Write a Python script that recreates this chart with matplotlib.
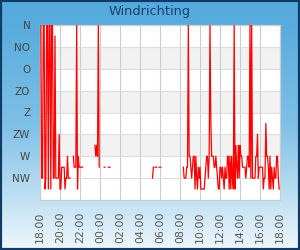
import matplotlib
matplotlib.use("Agg")
import matplotlib.pyplot as plt
import matplotlib.dates as mdates
from matplotlib.colors import LinearSegmentedColormap
from matplotlib.patches import Rectangle
import numpy as np
import pandas as pd

# windrichting in graden (0 = N, 315 = NW), metingen elke 5 minuten
richting_labels = ["N", "NO", "O", "ZO", "Z", "ZW", "W", "NW"]
richting_graden = [0, 45, 90, 135, 180, 225, 270, 315]

avond = [0, 315, 315, 0, 0, 337.5, 315, 0, 0, 337.5, 0, 0, 337.5, 0, 0, 315,
         315, 22.5, 315, 315, 315, 315, 225, 337.5, 337.5, 292.5, 292.5, 292.5,
         292.5, 337.5, 315, 315, 270, 315, 315, 315]
avond_2 = [270, 292.5, 292.5, 292.5, 0, 337.5, 270, 292.5, 292.5, 292.5, 292.5, 292.5]
avond_3 = [247.5, 270, 247.5, 270, 0, 292.5]
nacht_1 = [292.5, 292.5]
nacht_2 = [292.5, 292.5, 292.5]
ochtend_1 = [315, 292.5]
ochtend_2 = [292.5, 292.5, 292.5]
ochtend_3 = [292.5, 292.5, 292.5]
dag = [292.5, 315, 315, 315, 292.5, 292.5, 0, 270, 270, 292.5, 315, 292.5,
       270, 270, 337.5, 270, 315, 337.5, 292.5, 315, 292.5, 337.5, 337.5, 337.5,
       337.5, 337.5, 315, 292.5, 270, 270, 315, 270, 0, 202.5, 270, 270,
       270, 292.5, 292.5, 270, 292.5, 315, 337.5, 337.5, 292.5, 292.5, 315, 292.5,
       315, 337.5, 292.5, 315, 315, 270, 270, 337.5, 270, 337.5, 270, 315,
       337.5, 0, 337.5, 247.5, 292.5, 315, 247.5, 315, 247.5, 270, 270, 292.5,
       292.5, 292.5, 292.5, 315, 292.5, 270, 270, 292.5, 0, 315, 0, 315,
       315, 315, 315, 270, 270, 225, 315, 292.5, 292.5, 292.5, 292.5, 292.5,
       337.5, 315, 315, 202.5, 270, 270, 292.5, 337.5, 270, 337.5, 292.5, 315,
       337.5, 292.5, 315, 315, 270, 270, 315, 337.5]

segmenten = [("18:05", avond), ("21:20", avond_2), ("23:30", avond_3),
             ("00:25", nacht_1), ("00:50", nacht_2), ("05:15", ochtend_1),
             ("05:30", ochtend_2), ("05:55", ochtend_3), ("08:20", dag)]

begin = pd.Timestamp("2024-05-01 18:00")
eind = pd.Timestamp("2024-05-02 18:00")


def tijdstip(hhmm):
    t = pd.Timestamp("2024-05-01 " + hhmm)
    if t < begin:
        t += pd.Timedelta(days=1)
    return t


tijden = []
waarden = []
for start, vals in segmenten:
    idx = pd.date_range(tijdstip(start), periods=len(vals), freq="5min")
    tijden.extend(idx)
    waarden.extend(vals)
    # gat in de meetreeks
    tijden.append(idx[-1] + pd.Timedelta(minutes=2))
    waarden.append(np.nan)

fig = plt.figure(figsize=(3, 2.5), dpi=100)

# achtergrond met verloop
bg = fig.add_axes([0, 0, 1, 1], zorder=-2)
cmap = LinearSegmentedColormap.from_list(
    "bg", [(0, "#55aadd"), (0.1, "#58acdd"), (0.5, "#7fc0e6"), (1, "#eef7fc")])
bg.imshow(np.linspace(0, 1, 256).reshape(-1, 1), aspect="auto", cmap=cmap,
          extent=[0, 1, 0, 1], origin="upper")
bg.axis("off")

fig.text(0.5, 0.955, "Windrichting", ha="center", va="center",
         fontsize=9.3, color="#1b3f6e")

ax = fig.add_axes([40 / 300, 0.2, 0.8, 0.7])
ax.set_facecolor("white")
for lo in [45, 135, 225]:
    ax.axhspan(lo, lo + 45, color="#f2f2f2", zorder=0, lw=0)

ax.plot(tijden, waarden, color="#ff0000", lw=0.9, zorder=3)

ax.set_xlim(begin, eind)
ax.set_ylim(360, 0)
ax.set_yticks(richting_graden)
ax.set_yticklabels(richting_labels)
ax.xaxis.set_major_locator(mdates.HourLocator(byhour=range(0, 24, 2)))
ax.xaxis.set_major_formatter(mdates.DateFormatter("%H:%M"))
plt.setp(ax.get_xticklabels(), rotation=90)

ax.tick_params(axis="y", length=0, pad=7, labelsize=7.5, labelcolor="#444444")
ax.tick_params(axis="x", length=0, pad=8.5, labelsize=7.8, labelcolor="#555555")
ax.grid(axis="y", color="#dddddd", lw=0.8, zorder=1)
ax.grid(axis="x", color="#cccccc", lw=0.8, zorder=1)
ax.set_axisbelow(True)
for s in ax.spines.values():
    s.set_color("#cccccc")
    s.set_linewidth(0.9)

fig.patches.append(Rectangle((0, 0), 1, 1, transform=fig.transFigure, fill=False,
                             edgecolor="#123a66", lw=3, zorder=10))

fig.savefig("out.png", dpi=100)
